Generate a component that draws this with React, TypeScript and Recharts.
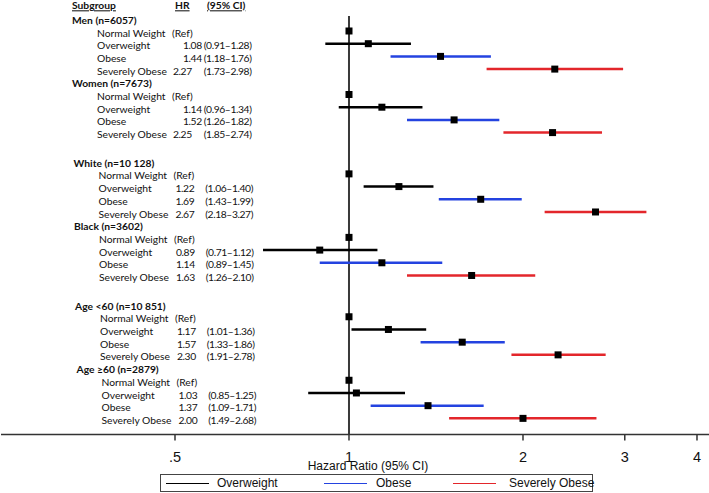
import { ErrorBar, ReferenceLine, Scatter, ScatterChart, XAxis, YAxis } from 'recharts'

const groups = [
  'Men (n=6057)',
  'Women (n=7673)',
  'White (n=10 128)',
  'Black (n=3602)',
  'Age <60 (n=10 851)',
  'Age ≥60 (n=2879)',
]
const categories = ['Normal Weight', 'Overweight', 'Obese', 'Severely Obese']

const overweightHR = [1.08, 1.14, 1.22, 0.89, 1.17, 1.03]
const overweightLow = [0.91, 0.96, 1.06, 0.71, 1.01, 0.85]
const overweightHigh = [1.28, 1.34, 1.4, 1.12, 1.36, 1.25]

const obeseHR = [1.44, 1.52, 1.69, 1.14, 1.57, 1.37]
const obeseLow = [1.18, 1.26, 1.43, 0.89, 1.33, 1.09]
const obeseHigh = [1.76, 1.82, 1.99, 1.45, 1.86, 1.71]

const severeHR = [2.27, 2.25, 2.67, 1.63, 2.3, 2.0]
const severeLow = [1.73, 1.85, 2.18, 1.26, 1.91, 1.49]
const severeHigh = [2.98, 2.74, 3.27, 2.1, 2.78, 2.68]

const refHR = 1
const xTicks = [0.5, 1, 2, 3, 4]
const xTickLabels = ['.5', '1', '2', '3', '4']

const series = [
  { name: categories[1], color: '#000000', hr: overweightHR, low: overweightLow, high: overweightHigh },
  { name: categories[2], color: '#2443e0', hr: obeseHR, low: obeseLow, high: obeseHigh },
  { name: categories[3], color: '#e3262b', hr: severeHR, low: severeLow, high: severeHigh },
]

// row layout: header + 4 rows per group, extra gap between pairs of groups
const SECTION_GAP = 1.25
const groupStart = (g: number) => 1 + 5 * g + SECTION_GAP * Math.floor(g / 2)
const HEADER_ROW = -0.15
const groupShift = [0, 0, 1.5, 2, 3, 4.5]

type RowInfo = { kind: 'title' } | { kind: 'group'; g: number } | { kind: 'item'; g: number; c: number }
const rowMap = new Map<string, RowInfo>()
rowMap.set(HEADER_ROW.toFixed(2), { kind: 'title' })
groups.forEach((_, g) => {
  rowMap.set(groupStart(g).toFixed(2), { kind: 'group', g })
  categories.forEach((_, c) => rowMap.set((groupStart(g) + 1 + c).toFixed(2), { kind: 'item', g, c }))
})
const rowTicks = Array.from(rowMap.keys()).map(Number)

const refData = groups.map((_, g) => ({ x: refHR, y: groupStart(g) + 1 }))
const seriesData = series.map((s, si) =>
  groups.map((_, g) => ({
    x: s.hr[g],
    y: groupStart(g) + 2 + si,
    err: [s.hr[g] - s.low[g], s.high[g] - s.hr[g]],
  })),
)

const tableFont = 'Lato, "Open Sans", sans-serif'
const axisFont = '"Liberation Sans", Arial, sans-serif'

const Square = (props: any) => {
  const { cx, cy } = props
  if (cx == null || cy == null) return null
  return <rect x={cx - 3.5} y={cy - 3.5} width={7} height={7} fill='#000' />
}

const TableTick = (props: any) => {
  const { y, payload } = props
  const info = rowMap.get(Number(payload.value).toFixed(2))
  if (!info) return null
  const base = y + 5.6
  const common = { fontFamily: tableFont, fontSize: 10.3, fill: '#111', textAnchor: 'start' as const }
  const num = { ...common, letterSpacing: -0.4 }
  if (info.kind === 'title') {
    return (
      <g>
        <text x={72} y={base} {...common} fontWeight={700} textDecoration='underline'>Subgroup</text>
        <text x={175} y={base} {...common} fontWeight={700} textDecoration='underline'>HR</text>
        <text x={207} y={base} {...common} fontWeight={700} textDecoration='underline'>(95% CI)</text>
      </g>
    )
  }
  const dx = groupShift[info.g]
  if (info.kind === 'group') {
    return (
      <text x={72 + dx} y={base} {...common} fontWeight={700}>{groups[info.g]}</text>
    )
  }
  const { g, c } = info
  if (c === 0) {
    return (
      <g>
        <text x={97 + dx} y={base} {...common}>{categories[0]}</text>
        <text x={172 + dx} y={base} {...common}>(Ref)</text>
      </g>
    )
  }
  const s = series[c - 1]
  const hrX = g < 2 ? (c === 3 ? 173 : 183) : 174 + dx
  return (
    <g>
      <text x={97 + dx} y={base} {...common}>{categories[c]}</text>
      <text x={hrX} y={base} {...num}>{s.hr[g].toFixed(2)}</text>
      <text x={251.5 + dx} y={base} {...num} textAnchor='end'>
        ({s.low[g].toFixed(2)}–{s.high[g].toFixed(2)})
      </text>
    </g>
  )
}

const XTick = (props: any) => {
  const { x, y, payload } = props
  const i = xTicks.indexOf(payload.value)
  return (
    <text x={x} y={y} dy={19.5} textAnchor='middle' fontFamily={axisFont} fontSize={14.5} fill='#111'>
      {i >= 0 ? xTickLabels[i] : payload.value}
    </text>
  )
}

const AxisTitle = (props: any) => {
  const { viewBox } = props
  return (
    <text
      x={viewBox.x + viewBox.width / 2 + 13}
      y={viewBox.y + 35}
      textAnchor='middle'
      fontFamily={axisFont}
      fontSize={12}
      fill='#111'
    >
      Hazard Ratio (95% CI)
    </text>
  )
}

const legendLayout = [
  { line: 5, text: 56 },
  { line: 163, text: 215 },
  { line: 292, text: 348 },
]

function ForestLegend() {
  return (
    <div
      style={{
        position: 'absolute',
        left: 160,
        top: 474,
        width: 433,
        height: 18,
        border: '1px solid #444',
        boxSizing: 'border-box',
        fontFamily: axisFont,
        fontSize: 12,
        color: '#111',
      }}
    >
      {series.map((s, i) => (
        <div key={s.name}>
          <div
            style={{
              position: 'absolute',
              left: legendLayout[i].line,
              top: 7.5,
              width: 43,
              height: 1.5,
              background: s.color,
            }}
          />
          <span
            style={{
              position: 'absolute',
              left: legendLayout[i].text,
              top: 0,
              lineHeight: '16px',
              whiteSpace: 'nowrap',
            }}
          >
            {s.name}
          </span>
        </div>
      ))}
    </div>
  )
}

export default function App() {
  return (
    <div style={{ position: 'absolute', left: 0, top: 0, width: 709, height: 493, background: '#fff' }}>
      <ScatterChart width={709} height={493} margin={{ top: 0, right: 0, bottom: 0, left: 0 }}>
        <XAxis
          dataKey='x'
          type='number'
          scale='log'
          domain={[0.25, 4.196]}
          allowDataOverflow
          ticks={xTicks}
          interval={0}
          height={58.5}
          tickSize={6}
          tick={<XTick />}
          stroke='#333'
          axisLine={{ stroke: '#333', strokeWidth: 1.5 }}
          tickLine={{ stroke: '#333', strokeWidth: 1.5 }}
          label={<AxisTitle />}
        />
        <YAxis
          dataKey='y'
          type='number'
          domain={[-0.44, 33.77]}
          allowDataOverflow
          reversed
          width={1}
          ticks={rowTicks}
          interval={0}
          axisLine={false}
          tickLine={false}
          tick={<TableTick />}
        />
        <ReferenceLine
          segment={[
            { x: 1, y: 0.82 },
            { x: 1, y: 33.77 },
          ]}
          stroke='#3a3a3a'
          strokeWidth={2}
        />
        {series.map((s, i) => (
          <Scatter key={s.name} name={s.name} data={seriesData[i]} shape={<Square />} isAnimationActive={false}>
            <ErrorBar
              dataKey='err'
              direction='x'
              width={0}
              stroke={s.color}
              strokeWidth={2.5}
              isAnimationActive={false}
            />
          </Scatter>
        ))}
        <Scatter name={categories[0]} data={refData} shape={<Square />} isAnimationActive={false} />
      </ScatterChart>
      <ForestLegend />
    </div>
  )
}
